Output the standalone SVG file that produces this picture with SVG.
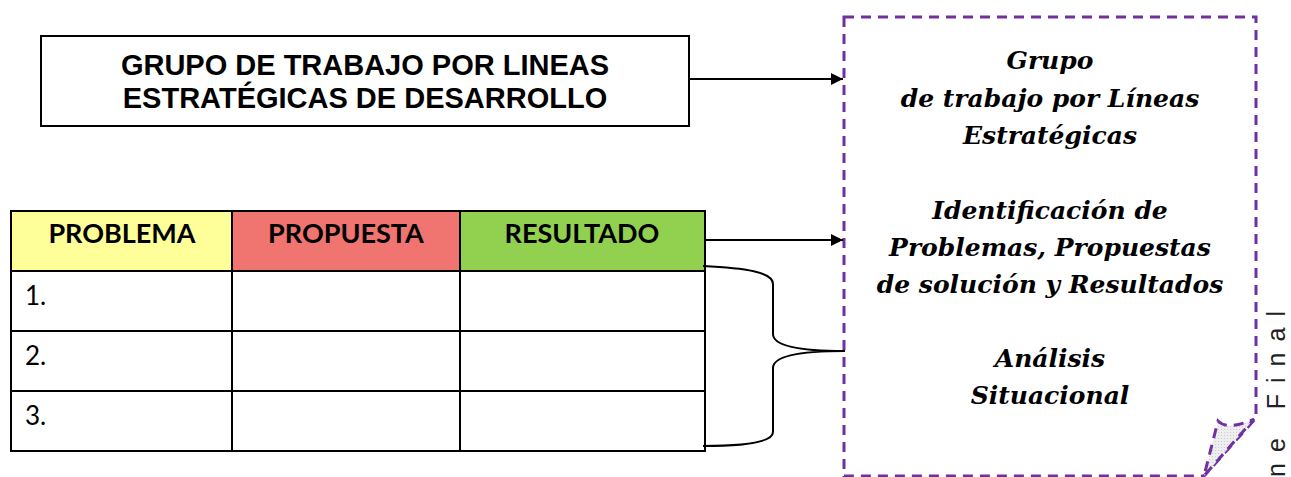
<svg xmlns="http://www.w3.org/2000/svg" width="1291" height="477" viewBox="0 0 1291 477">
<style>
.ln{stroke:#000;stroke-width:2;fill:none}
.hdr{font-family:Lato,"Liberation Sans",sans-serif;font-weight:bold;font-size:27px;fill:#000;text-anchor:middle}
.num{font-family:Lato,"Liberation Sans",sans-serif;font-size:26px;fill:#000}
.big{font-family:"Liberation Sans",Arial,sans-serif;font-weight:bold;font-size:29px;fill:#000;text-anchor:middle}
.ser{font-family:"DejaVu Serif","Liberation Serif",serif;font-weight:bold;font-style:italic;font-size:25px;fill:#000;text-anchor:middle}
.dash{stroke:#7030A0;stroke-width:3;stroke-dasharray:10 7;fill:none}
</style>
<defs>
<marker id="ah" viewBox="0 0 10 10" refX="10" refY="5" markerWidth="15" markerHeight="12" markerUnits="userSpaceOnUse" orient="auto">
<path d="M0,0 L10,5 L0,10 Z" fill="#000"/>
</marker>
<pattern id="dots" width="3" height="3" patternUnits="userSpaceOnUse">
<rect width="3" height="3" fill="#eeeeee"/>
<rect width="1" height="1" fill="#cccccc"/>
</pattern>
</defs>
<rect width="1291" height="477" fill="#fff"/>

<g id="titleBox">
<rect x="41" y="36" width="648" height="90" fill="#fff" stroke="#000" stroke-width="2"/>
<text class="big" x="365" y="75">GRUPO DE TRABAJO POR LINEAS</text>
<text class="big" x="365" y="108">ESTRATÉGICAS DE DESARROLLO</text>
</g>

<g id="table">
<rect x="11" y="211" width="221" height="60" fill="#FFFF99"/>
<rect x="232" y="211" width="228" height="60" fill="#F07470"/>
<rect x="460" y="211" width="245" height="60" fill="#92D050"/>
<rect x="11" y="211" width="694" height="240" class="ln" stroke-width="3"/>
<line x1="11" y1="271" x2="705" y2="271" class="ln" stroke-width="3"/>
<line x1="11" y1="331" x2="705" y2="331" class="ln" stroke-width="3"/>
<line x1="11" y1="391" x2="705" y2="391" class="ln" stroke-width="3"/>
<line x1="232" y1="211" x2="232" y2="451" class="ln" stroke-width="3"/>
<line x1="460" y1="211" x2="460" y2="451" class="ln" stroke-width="3"/>
<text class="hdr" x="122" y="243">PROBLEMA</text>
<text class="hdr" x="346" y="243">PROPUESTA</text>
<text class="hdr" x="582" y="243">RESULTADO</text>
<text class="num" x="25" y="305">1.</text>
<text class="num" x="25" y="365">2.</text>
<text class="num" x="25" y="425">3.</text>
</g>

<g id="noteBox">
<path class="dash" d="M844,17 L1256,17 L1256,418 L1204,476 L844,476 Z" fill="#fff"/>
<path d="M1218,421 Q1228,431 1254,419 L1204,476 Z" fill="url(#dots)" stroke="#7030A0" stroke-width="3" stroke-dasharray="10 7"/>
<text class="ser" x="1050" y="69">Grupo</text>
<text class="ser" x="1050" y="107">de trabajo por Líneas</text>
<text class="ser" x="1050" y="144">Estratégicas</text>
<text class="ser" x="1050" y="219">Identificación de</text>
<text class="ser" x="1050" y="256">Problemas, Propuestas</text>
<text class="ser" x="1050" y="293">de solución y Resultados</text>
<text class="ser" x="1050" y="367">Análisis</text>
<text class="ser" x="1050" y="404">Situacional</text>
</g>

<g id="sideLabel">
<text transform="translate(1285,477) rotate(-90)" font-family="'Liberation Sans',sans-serif" font-size="25" letter-spacing="11" fill="#222">ne Final</text>
</g>

<g id="connectors">
<line x1="689" y1="79" x2="843" y2="79" class="ln" marker-end="url(#ah)"/>
<line x1="705" y1="240" x2="843" y2="240" class="ln" marker-end="url(#ah)"/>
<path class="ln" d="M703,266 C745,268 773,272 773,284 L773,334 C773,346 800,351 845,351 C800,351 773,356 773,368 L773,432 C773,442 745,446 703,446"/>
</g>
</svg>
